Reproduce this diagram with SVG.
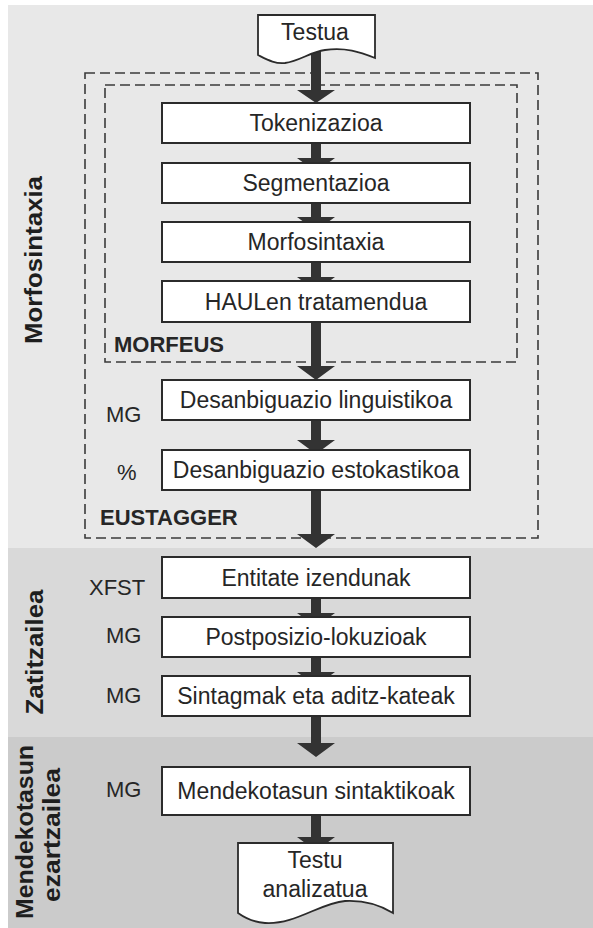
<svg xmlns="http://www.w3.org/2000/svg" width="593" height="928" viewBox="0 0 593 928">
<style>
.box{fill:#fff;stroke:#2b2b2b;stroke-width:2}
.doc{fill:#fff;stroke:#2b2b2b;stroke-width:1.8}
.t{font-family:"Liberation Sans",Arial,sans-serif;font-size:23px;fill:#262626;text-anchor:middle}
.side{font-family:"Liberation Sans",Arial,sans-serif;font-size:22px;fill:#262626}
.lbl{font-family:"Liberation Sans",Arial,sans-serif;font-size:22px;font-weight:bold;fill:#262626}
.band{font-family:"Liberation Sans",Arial,sans-serif;font-size:24px;font-weight:bold;fill:#1e1e1e;text-anchor:middle}
.dash{fill:none;stroke:#3a3a3a;stroke-width:1.6;stroke-dasharray:10 5}
.arr{fill:#333}
</style>
<g id="background">
<rect x="8" y="5" width="585" height="543" fill="#e8e8e8"/>
<rect x="8" y="548" width="585" height="189" fill="#d9d9d9"/>
<rect x="8" y="737" width="585" height="191" fill="#cbcbcb"/>
</g>
<g id="band-labels">
<text class="band" transform="translate(42,260) rotate(-90)" textLength="168" lengthAdjust="spacingAndGlyphs">Morfosintaxia</text>
<text class="band" transform="translate(43,652) rotate(-90)" textLength="125" lengthAdjust="spacingAndGlyphs">Zatitzailea</text>
<text class="band" transform="translate(33,832) rotate(-90)" textLength="174" lengthAdjust="spacingAndGlyphs">Mendekotasun</text>
<text class="band" transform="translate(60,835) rotate(-90)" textLength="134" lengthAdjust="spacingAndGlyphs">ezartzailea</text>
</g>
<g id="eustagger">
<rect class="dash" x="85" y="73" width="453" height="465"/>
<text class="lbl" x="100" y="525">EUSTAGGER</text>
</g>
<g id="morfeus">
<rect class="dash" x="105" y="85" width="412" height="277"/>
<text class="lbl" x="114" y="352">MORFEUS</text>
</g>
<g id="connectors">
<path class="arr" d="M311,50H321V90H335L316,103L297,90H311Z"/>
<path class="arr" d="M311,143H321V158H335L316,172L297,158H311Z"/>
<path class="arr" d="M311,202H321V217H335L316,231L297,217H311Z"/>
<path class="arr" d="M311,262H321V277H335L316,291L297,277H311Z"/>
<path class="arr" d="M311,322H321V366H335L316,380L297,366H311Z"/>
<path class="arr" d="M311,420H321V440H335L316,454L297,440H311Z"/>
<path class="arr" d="M311,490H321V534H335L316,548L297,534H311Z"/>
<path class="arr" d="M311,598H321V613H335L316,627L297,613H311Z"/>
<path class="arr" d="M311,657H321V672H335L316,686L297,672H311Z"/>
<path class="arr" d="M311,716H321V743H335L316,757L297,743H311Z"/>
<path class="arr" d="M311,815H321V837H335L316,851L297,837H311Z"/>
</g>
<g id="testua">
<path class="doc" d="M258,15H375V58C360,52 345,47 325,50C310,52 300,61 285,63C275,64 268,60 258,55Z"/>
<text class="t" x="315" y="40">Testua</text>
</g>
<g id="tokenizazioa">
<rect class="box" x="162" y="103" width="308" height="40"/>
<text class="t" x="316" y="131">Tokenizazioa</text>
</g>
<g id="segmentazioa">
<rect class="box" x="162" y="163" width="308" height="40"/>
<text class="t" x="316" y="191">Segmentazioa</text>
</g>
<g id="morfosintaxia">
<rect class="box" x="162" y="222" width="308" height="40"/>
<text class="t" x="316" y="250">Morfosintaxia</text>
</g>
<g id="haulen">
<rect class="box" x="162" y="281" width="308" height="41"/>
<text class="t" x="316" y="310">HAULen tratamendua</text>
</g>
<g id="desanb-ling">
<rect class="box" x="162" y="380" width="308" height="40"/>
<text class="t" x="316" y="408">Desanbiguazio linguistikoa</text>
<text class="side" x="106" y="422">MG</text>
</g>
<g id="desanb-estok">
<rect class="box" x="162" y="450" width="308" height="40"/>
<text class="t" x="316" y="478">Desanbiguazio estokastikoa</text>
<text class="side" x="117" y="480">%</text>
</g>
<g id="entitate">
<rect class="box" x="162" y="557" width="308" height="41"/>
<text class="t" x="316" y="586">Entitate izendunak</text>
<text class="side" x="89" y="595">XFST</text>
</g>
<g id="postposizio">
<rect class="box" x="162" y="617" width="308" height="40"/>
<text class="t" x="316" y="645">Postposizio-lokuzioak</text>
<text class="side" x="106" y="643">MG</text>
</g>
<g id="sintagmak">
<rect class="box" x="162" y="676" width="308" height="40"/>
<text class="t" x="316" y="704">Sintagmak eta aditz-kateak</text>
<text class="side" x="106" y="703">MG</text>
</g>
<g id="mendekotasun">
<rect class="box" x="162" y="767" width="308" height="48"/>
<text class="t" x="316" y="799">Mendekotasun sintaktikoak</text>
<text class="side" x="106" y="797">MG</text>
</g>
<g id="testu-analizatua">
<path class="doc" d="M238,843H393V913C380,905 365,900 345,901C320,903 295,925 265,923C252,922 245,918 238,913Z"/>
<text class="t" x="315" y="868">Testu</text>
<text class="t" x="315" y="897">analizatua</text>
</g>
</svg>
